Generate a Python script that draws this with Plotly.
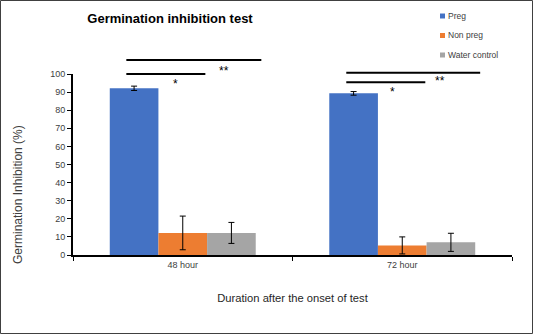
import plotly.graph_objects as go

categories = ["48 hour", "72 hour"]
series_names = ["Preg", "Non preg", "Water control"]
preg = [92.1, 89.3]
preg_err = [1.2, 1.0]
nonpreg = [12.2, 5.3]
nonpreg_err = [9.3, 4.7]
water = [12.2, 7.0]
water_err = [5.8, 5.0]
colors = ["#4472C4", "#ED7D31", "#A5A5A5"]

# significance bars: (category index, y value, x start offset, x end offset)
sig_lines = [(0, 107.7, -0.257, 0.358), (0, 100.0, -0.257, 0.103),
             (1, 100.7, -0.255, 0.355), (1, 95.4, -0.255, 0.105)]
# significance labels: (category index, y value, x offset, text)
sig_labels = [(0, 94.5, -0.055, "*"), (0, 101.5, 0.155, "**"),
              (1, 90.3, -0.022, "*"), (1, 96.2, 0.205, "**")]

W, H = 533, 334
L, R, T, B = 73, 21, 74, 79
pw, ph = W - L - R, H - T - B
YMAX = 100

def px_x(p):
    return (p - L) / pw

def px_y(p):
    return 1 - (p - T) / ph

fig = go.Figure()
for name, vals, errs, col in zip(series_names, [preg, nonpreg, water],
                                 [preg_err, nonpreg_err, water_err], colors):
    fig.add_trace(go.Bar(
        x=categories, y=vals, name=name, marker_color=col, marker_line_width=0,
        showlegend=False,
        error_y=dict(type="data", array=errs, color="black", thickness=1, width=3),
    ))

ncat = len(categories)
def xp(ci, off):
    return (ci + 0.5 + off) / ncat

for ci, yv, a, b in sig_lines:
    fig.add_shape(type="line", xref="paper", yref="paper",
                  x0=xp(ci, a), x1=xp(ci, b), y0=yv / YMAX, y1=yv / YMAX,
                  line=dict(color="black", width=2))
for ci, yv, off, txt in sig_labels:
    fig.add_annotation(xref="paper", yref="paper", x=xp(ci, off), y=yv / YMAX,
                       text=txt, showarrow=False, yanchor="middle",
                       font=dict(size=12, color="black", family="Liberation Sans"))

# legend (drawn manually, top right)
for i, (name, col) in enumerate(zip(series_names, colors)):
    cy = 16 + i * 19.5
    fig.add_shape(type="rect", xref="paper", yref="paper",
                  x0=px_x(440), x1=px_x(445), y0=px_y(cy + 2.5), y1=px_y(cy - 2.5),
                  fillcolor=col, line=dict(width=0))
    fig.add_annotation(xref="paper", yref="paper", x=px_x(446), y=px_y(cy),
                       text=name, showarrow=False, xanchor="left", yanchor="middle",
                       font=dict(size=8.5, color="#404040", family="Liberation Sans"))

# y axis title
fig.add_annotation(xref="paper", yref="paper", x=px_x(18), y=px_y(194),
                   text="Germination Inhibition (%)", textangle=-90, showarrow=False,
                   xanchor="center", yanchor="middle",
                   font=dict(size=12, color="#404040", family="Liberation Sans"))

# outer frame
fig.add_shape(type="rect", xref="paper", yref="paper",
              x0=-(L - 0.5) / pw, x1=1 + (R - 0.5) / pw,
              y0=-(B - 0.5) / ph, y1=1 + (T - 0.5) / ph,
              line=dict(color="#404040", width=1))

fig.update_layout(
    width=W, height=H,
    margin=dict(l=L, r=R, t=T, b=B, autoexpand=False),
    paper_bgcolor="white", plot_bgcolor="white",
    font=dict(family="Liberation Sans", color="#404040"),
    barmode="group", bargap=0.335, bargroupgap=0,
    title=dict(text="<b>Germination inhibition test</b>", x=170 / W, xanchor="center",
               y=1 - 18 / H, yanchor="middle",
               font=dict(size=13, color="black", family="Liberation Sans")),
    showlegend=False,
)
fig.update_xaxes(showline=True, linecolor="black", linewidth=2, ticks="outside",
                 tickson="boundaries", ticklen=4, tickcolor="black", tickwidth=1,
                 tickfont=dict(size=9, color="#404040"), showgrid=False,
                 title=dict(text="Duration after the onset of test", standoff=25,
                            font=dict(size=11.2, color="#262626")))
fig.update_yaxes(range=[0, YMAX], dtick=10, showline=True, linecolor="black", linewidth=2,
                 ticks="outside", ticklen=4, tickcolor="black", showgrid=False,
                 zeroline=False, tickfont=dict(size=9, color="#404040"))

fig.write_html("out.html")
